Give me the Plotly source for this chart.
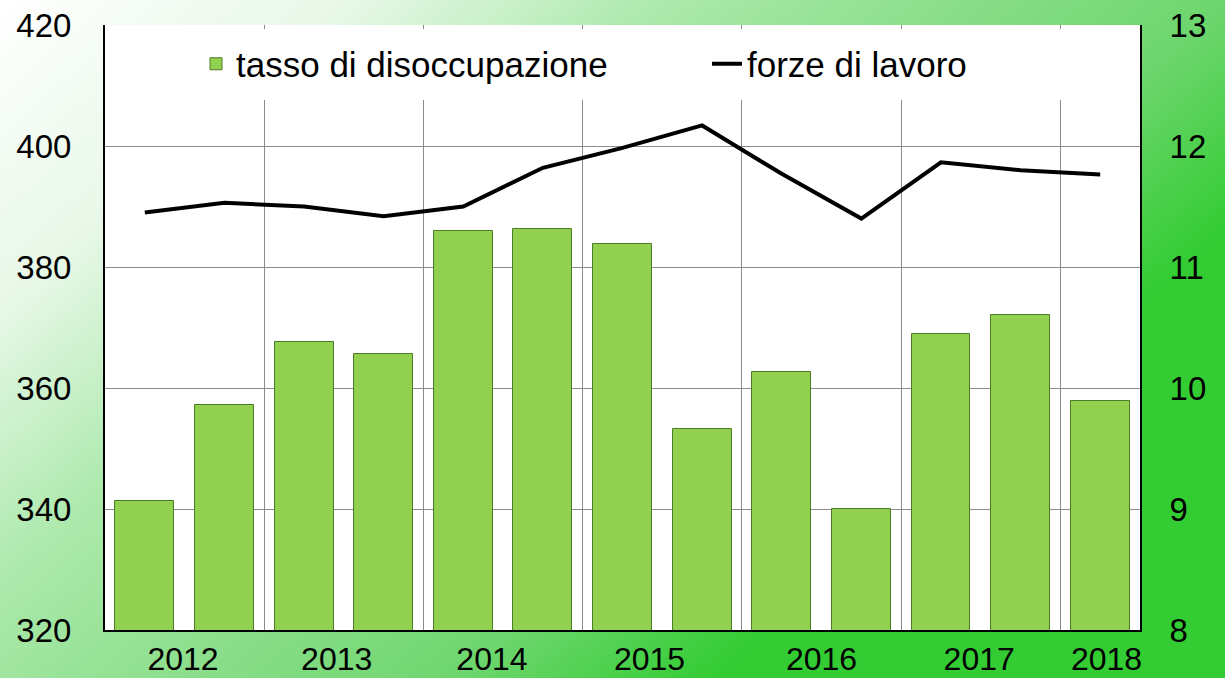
import base64
import plotly.graph_objects as go

# ---- data ----
periodi = ["2012 I", "2012 II", "2013 I", "2013 II", "2014 I", "2014 II", "2015 I",
           "2015 II", "2016 I", "2016 II", "2017 I", "2017 II", "2018 I"]
tasso_disoccupazione = [9.07, 9.86, 10.38, 10.28, 11.30, 11.31, 11.19,
                        9.66, 10.13, 9.00, 10.45, 10.60, 9.89]
forze_di_lavoro = [389.0, 390.6, 390.0, 388.4, 390.0, 396.4, 399.7,
                   403.4, 395.4, 388.0, 397.3, 396.0, 395.3]
anni = ["2012", "2013", "2014", "2015", "2016", "2017", "2018"]
anni_pos = [0.48, 2.41, 4.36, 6.34, 8.5, 10.48, 12.08]

x = list(range(len(periodi)))

FONT = "Liberation Sans, Arial, sans-serif"
W, H = 1225, 678
ML, MR, MT, MB = 105, 85, 25, 48
PW, PH = W - ML - MR, H - MT - MB

# gradient background as an SVG image
svg = (
    f'<svg xmlns="http://www.w3.org/2000/svg" width="{W}" height="{H}" viewBox="0 0 {W} {H}" '
    'preserveAspectRatio="none"><defs><linearGradient id="g" gradientUnits="userSpaceOnUse" '
    'x1="0" y1="0" x2="763" y2="868">'
    '<stop offset="0" stop-color="#ffffff"/>'
    '<stop offset="0.2" stop-color="#e8f8e8"/>'
    '<stop offset="0.38" stop-color="#ace9ac"/>'
    '<stop offset="0.55" stop-color="#8ade8a"/>'
    '<stop offset="0.7" stop-color="#6ed66e"/>'
    '<stop offset="0.85" stop-color="#33cc33"/>'
    '<stop offset="1" stop-color="#33cc33"/>'
    f'</linearGradient></defs><rect width="{W}" height="{H}" fill="url(#g)"/></svg>'
)
svg_uri = "data:image/svg+xml;base64," + base64.b64encode(svg.encode()).decode()

fig = go.Figure()
fig.add_trace(go.Bar(
    x=x, y=tasso_disoccupazione, name="tasso di disoccupazione",
    yaxis="y", width=0.74, legend="legend",
    marker=dict(color="#92d050", line=dict(color="#4f7a28", width=1)),
    hovertext=periodi,
))
fig.add_trace(go.Scatter(
    x=x, y=forze_di_lavoro, name="forze di lavoro", yaxis="y2", legend="legend2",
    mode="lines", line=dict(color="black", width=4),
    hovertext=periodi,
))

grid = "#8c8c8c"
TICKSIZE = 33
LEGSIZE = 35
leg_common = dict(
    orientation="h", xanchor="left", yanchor="middle",
    y=(MT + PH - 64) / PH, bgcolor="white",
    bordercolor="white", borderwidth=6, entrywidthmode="pixels",
    font=dict(size=LEGSIZE, family=FONT, color="black"),
)
fig.update_layout(
    width=W, height=H,
    margin=dict(l=ML, r=MR, t=MT, b=MB, pad=0, autoexpand=False),
    paper_bgcolor="#33cc33",
    plot_bgcolor="white",
    font=dict(family=FONT, size=TICKSIZE, color="black"),
    showlegend=True,
    bargap=0,
    xaxis=dict(
        range=[-0.5, 12.5], tickmode="array", tickvals=anni_pos, ticktext=anni,
        ticks="", ticklabelstandoff=0, showgrid=False, zeroline=False,
        showline=True, linecolor="black", linewidth=2, automargin=False,
        minor=dict(tickmode="linear", tick0=1.5, dtick=2, showgrid=True,
                   gridcolor=grid, gridwidth=1, ticks=""),
        tickfont=dict(size=32),
    ),
    yaxis=dict(
        side="right", range=[8, 13], tickmode="linear", tick0=8, dtick=1,
        showgrid=True, gridcolor=grid, gridwidth=1, zeroline=False,
        showline=True, linecolor="black", linewidth=2, automargin=False,
        ticks="", ticklabelstandoff=21, tickfont=dict(size=TICKSIZE),
    ),
    yaxis2=dict(
        side="left", overlaying="y", range=[320, 420], tickmode="linear",
        tick0=320, dtick=20, showgrid=False, zeroline=False,
        showline=True, linecolor="black", linewidth=2, automargin=False,
        ticks="", ticklabelstandoff=25, tickfont=dict(size=TICKSIZE),
    ),
    legend=dict(x=(190 - ML) / PW, entrywidth=455, **leg_common),
    legend2=dict(x=(701 - ML) / PW, entrywidth=320, **leg_common),
    images=[dict(
        source=svg_uri, xref="paper", yref="paper",
        x=-ML / PW, y=1 + MT / PH, sizex=W / PW, sizey=H / PH,
        xanchor="left", yanchor="top", sizing="stretch", layer="below",
    )],
    shapes=[
        dict(type="rect", xref="paper", yref="paper", x0=0, x1=1, y0=0, y1=1,
             fillcolor="white", line=dict(width=0), layer="below"),
    ],
)

fig.write_html(
    "out.html",
    config={"displayModeBar": False},
    post_script="document.body.style.margin='0';document.body.style.overflow='hidden';",
)
